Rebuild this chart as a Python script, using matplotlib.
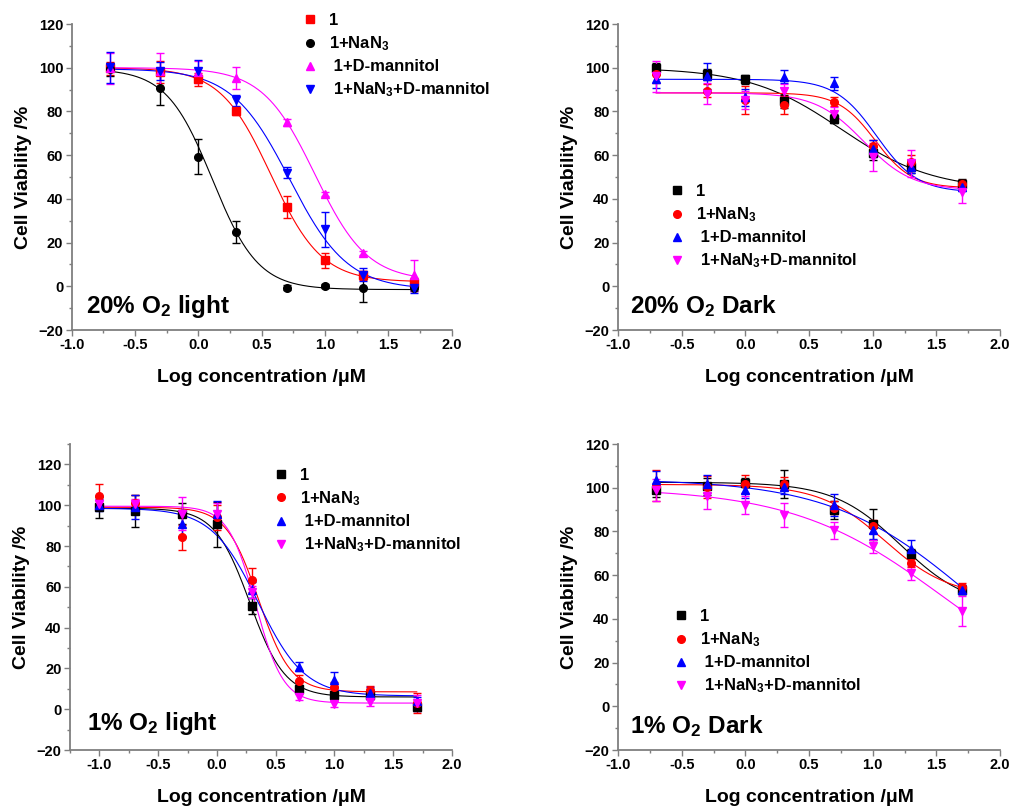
import numpy as np
import matplotlib
matplotlib.use("Agg")
import matplotlib.pyplot as plt
from matplotlib.lines import Line2D
from matplotlib.ticker import MultipleLocator

plt.rcParams['font.family'] = ['Liberation Sans', 'DejaVu Sans']
plt.rcParams['font.weight'] = 'bold'
plt.rcParams['mathtext.fontset'] = 'custom'
plt.rcParams['mathtext.rm'] = 'Liberation Sans:bold'
plt.rcParams['mathtext.it'] = 'Liberation Sans:bold'
plt.rcParams['mathtext.bf'] = 'Liberation Sans:bold'

labels = ["1", "1+NaN$_3$", " 1+D-mannitol", " 1+NaN$_3$+D-mannitol"]

# ---------- 20% O2 light ----------
x_20L = [-0.7, -0.3, 0.0, 0.3, 0.7, 1.0, 1.3, 1.7]
y_20L_1 = [99.7, 98.2, 94.7, 80.2, 36.3, 11.9, 5.0, 1.7]
e_20L_1 = [3, 5, 3, 2, 5, 3.5, 2, 2]
y_20L_N = [99.2, 90.5, 59.2, 24.9, -0.6, 0.2, -0.6, -1.0]
e_20L_N = [3, 7.5, 8, 5, 1, 1, 6.5, 1]
y_20L_M = [99.7, 98.6, 98.2, 95.4, 75.0, 42.1, 15.3, 5.0]
e_20L_M = [7, 8, 5, 5, 1.5, 1, 1, 7]
y_20L_NM = [100.2, 98.5, 98.5, 85.2, 52.0, 26.0, 5.3, -0.8]
e_20L_NM = [7, 4, 5, 2.5, 2.5, 8, 3, 2.5]
# fit parameters (bottom, top, logEC50, hill)
fit_20L = [(2, 100, 0.573, 2.17), (-1.5, 99.5, 0.11, 2.4),
           (2.5, 100, 0.92, 2.1), (-1.5, 99.5, 0.72, 1.9)]

# ---------- 20% O2 Dark ----------
x_20D = [-0.7, -0.3, 0.0, 0.3, 0.7, 1.0, 1.3, 1.7]
y_20D_1 = [99.7, 97.0, 94.7, 84.7, 76.6, 60.8, 54.7, 47.0]
e_20D_1 = [2.5, 2.5, 2, 3, 2, 3, 3, 2]
y_20D_N = [97.0, 89.5, 85.2, 82.9, 84.4, 64.1, 57.0, 46.7]
e_20D_N = [4, 3, 6.5, 4, 2, 3, 3, 2]
y_20D_M = [94.7, 96.2, 86.4, 95.9, 92.8, 63.0, 54.7, 45.5]
e_20D_M = [4, 6, 4, 3, 3, 4, 3, 2]
y_20D_NM = [96.0, 88.2, 85.2, 89.5, 78.8, 59.2, 56.2, 43.2]
e_20D_NM = [7, 5, 4, 3, 3, 6.5, 6, 5]
fit_20D = [(44, 100, 0.75, 1.2), (45, 88.5, 1.02, 3.0),
           (43, 94.7, 1.03, 2.7), (44, 88.5, 0.93, 2.3)]

# ---------- 1% O2 light ----------
x_1L = [-1.0, -0.7, -0.3, 0.0, 0.3, 0.7, 1.0, 1.3, 1.7]
y_1L_1 = [98.9, 97.1, 95.9, 90.7, 50.7, 9.8, 7.0, 7.0, 1.0]
e_1L_1 = [5, 8, 5, 11, 4, 2, 2, 2, 2]
y_1L_N = [104.4, 101.1, 84.2, 94.0, 63.3, 13.9, 11.1, 9.5, 2.9]
e_1L_N = [6, 4, 6, 6, 6, 3, 2, 2, 5]
y_1L_M = [100.0, 99.2, 90.7, 95.9, 58.4, 20.9, 14.4, 7.8, 4.2]
e_1L_M = [3, 6, 6, 6, 4, 2, 4, 3, 2]
y_1L_NM = [100.5, 100.8, 95.9, 95.9, 57.6, 5.9, 2.6, 3.3, 2.9]
e_1L_NM = [2, 2, 8, 5, 3, 1.5, 1.5, 1.5, 4]
fit_1L = [(6, 98.5, 0.28, 2.9), (8.5, 99, 0.354, 3.17),
          (6.5, 98.5, 0.35, 2.2), (3, 99.5, 0.33, 3.7)]

# ---------- 1% O2 Dark ----------
x_1D = [-0.7, -0.3, 0.0, 0.3, 0.7, 1.0, 1.3, 1.7]
y_1D_1 = [98.8, 100.6, 102.3, 101.8, 89.9, 83.2, 69.8, 53.4]
e_1D_1 = [3, 4, 2, 6.5, 4, 7, 2, 2]
y_1D_N = [101.0, 100.3, 101.8, 101.8, 90.9, 82.3, 65.5, 54.6]
e_1D_N = [7, 5, 4, 3, 3, 3, 2, 2]
y_1D_M = [103.7, 101.8, 99.1, 100.3, 91.9, 80.5, 72.1, 53.4]
e_1D_M = [4, 4, 4, 3, 5, 4, 4, 2]
y_1D_NM = [98.8, 96.2, 92.2, 87.3, 80.5, 73.3, 61.0, 43.6]
e_1D_NM = [5, 6, 4, 5.5, 4, 3, 3, 7]
fit_1D = [(45, 102.5, 1.22, 1.65), (50, 101.5, 1.095, 1.7),
          (0, 104, 1.75, 0.8), (0, 100, 1.557, 0.734)]


def logistic(x, b, t, x0, p):
    return b + (t - b) / (1 + 10 ** ((x - x0) * p))


fig = plt.figure(figsize=(10.12, 8.10), dpi=100)
W, H = 1012, 810

def add_ax(l, r, top, bot):
    return fig.add_axes([l / W, 1 - bot / H, (r - l) / W, (bot - top) / H])

panels = [
    dict(ax=add_ax(71.7, 451.7, 24, 330), xlim=(-1, 2), ylim=(-20, 120),
         x=x_20L, ys=[y_20L_1, y_20L_N, y_20L_M, y_20L_NM],
         es=[e_20L_1, e_20L_N, e_20L_M, e_20L_NM], fits=fit_20L,
         colors=['#ff0000', '#000000', '#ff00ff', '#0000ff'],
         title="20% O$_2$ light", tpos=(0.038, 0.056),
         leg=(302, 13)),
    dict(ax=add_ax(618, 1000, 24, 330), xlim=(-1, 2), ylim=(-20, 120),
         x=x_20D, ys=[y_20D_1, y_20D_N, y_20D_M, y_20D_NM],
         es=[e_20D_1, e_20D_N, e_20D_M, e_20D_NM], fits=fit_20D,
         colors=['#000000', '#ff0000', '#0000ff', '#ff00ff'],
         title="20% O$_2$ Dark", tpos=(0.031, 0.056),
         leg=(669, 184)),
    dict(ax=add_ax(70, 452, 444, 750), xlim=(-1.25, 2), ylim=(-20, 130),
         x=x_1L, ys=[y_1L_1, y_1L_N, y_1L_M, y_1L_NM],
         es=[e_1L_1, e_1L_N, e_1L_M, e_1L_NM], fits=fit_1L,
         colors=['#000000', '#ff0000', '#0000ff', '#ff00ff'],
         title="1% O$_2$ light", tpos=(0.045, 0.065),
         leg=(273, 468)),
    dict(ax=add_ax(618, 1000, 444, 750), xlim=(-1, 2), ylim=(-20, 120),
         x=x_1D, ys=[y_1D_1, y_1D_N, y_1D_M, y_1D_NM],
         es=[e_1D_1, e_1D_N, e_1D_M, e_1D_NM], fits=fit_1D,
         colors=['#000000', '#ff0000', '#0000ff', '#ff00ff'],
         title="1% O$_2$ Dark", tpos=(0.031, 0.056),
         leg=(673, 609)),
]

markers = ['s', 'o', '^', 'v']

for k, pnl in enumerate(panels):
    ax = pnl['ax']
    x = np.array(pnl['x'])
    xs = np.linspace(x.min(), x.max(), 300)
    handles = []
    for i in range(4):
        c = pnl['colors'][i]
        m = markers[i]
        ax.plot(xs, logistic(xs, *pnl['fits'][i]), color=c, lw=0.8, zorder=2)
        ax.errorbar(x, pnl['ys'][i], yerr=pnl['es'][i], fmt=m, color=c,
                    ms=5.5, mec=c, ecolor=c, elinewidth=1, capsize=3,
                    capthick=1, zorder=3)
        handles.append(Line2D([], [], marker=m, color=c, ls='none', ms=5.5))
    ax.set_xlim(*pnl['xlim'])
    ax.set_ylim(*pnl['ylim'])
    ax.xaxis.set_major_locator(MultipleLocator(0.5))
    ax.xaxis.set_minor_locator(MultipleLocator(0.25))
    ax.yaxis.set_major_locator(MultipleLocator(20))
    ax.yaxis.set_minor_locator(MultipleLocator(10))
    if k == 2:
        ax.set_xticks([-1.0, -0.5, 0.0, 0.5, 1.0, 1.5, 2.0])
        ax.set_yticks([-20, 0, 20, 40, 60, 80, 100, 120])
    ax.set_xticklabels([f"{v:.1f}" for v in ax.get_xticks()])
    for s in ['top', 'right']:
        ax.spines[s].set_visible(False)
    for s in ['left', 'bottom']:
        ax.spines[s].set_color('#7f7f7f')
        ax.spines[s].set_linewidth(1.3)
    ax.tick_params(which='major', direction='out', length=4, width=1,
                   color='#7f7f7f', labelsize=10.5, pad=2)
    ax.tick_params(which='minor', direction='out', length=2.5, width=1,
                   color='#7f7f7f')
    for lab in ax.get_xticklabels() + ax.get_yticklabels():
        lab.set_fontweight('bold')
    ax.set_xlabel("Log concentration /\u03bcM", fontsize=14,
                  fontweight='bold', labelpad=12)
    ax.set_ylabel("Cell Viability /%", fontsize=14, fontweight='bold',
                  labelpad=5)
    ax.text(pnl['tpos'][0], pnl['tpos'][1], pnl['title'], transform=ax.transAxes,
            fontsize=17.5, fontweight='bold', va='baseline', ha='left')
    lx, ly = pnl['leg']
    ax.legend(handles, labels, loc='upper left',
              bbox_to_anchor=(lx / W, 1 - ly / H), bbox_transform=fig.transFigure,
              frameon=False, borderpad=0, borderaxespad=0, handlelength=1.0,
              handletextpad=0.6, labelspacing=0.38,
              prop={'weight': 'bold', 'size': 12})

fig.savefig("out.png", dpi=100)
